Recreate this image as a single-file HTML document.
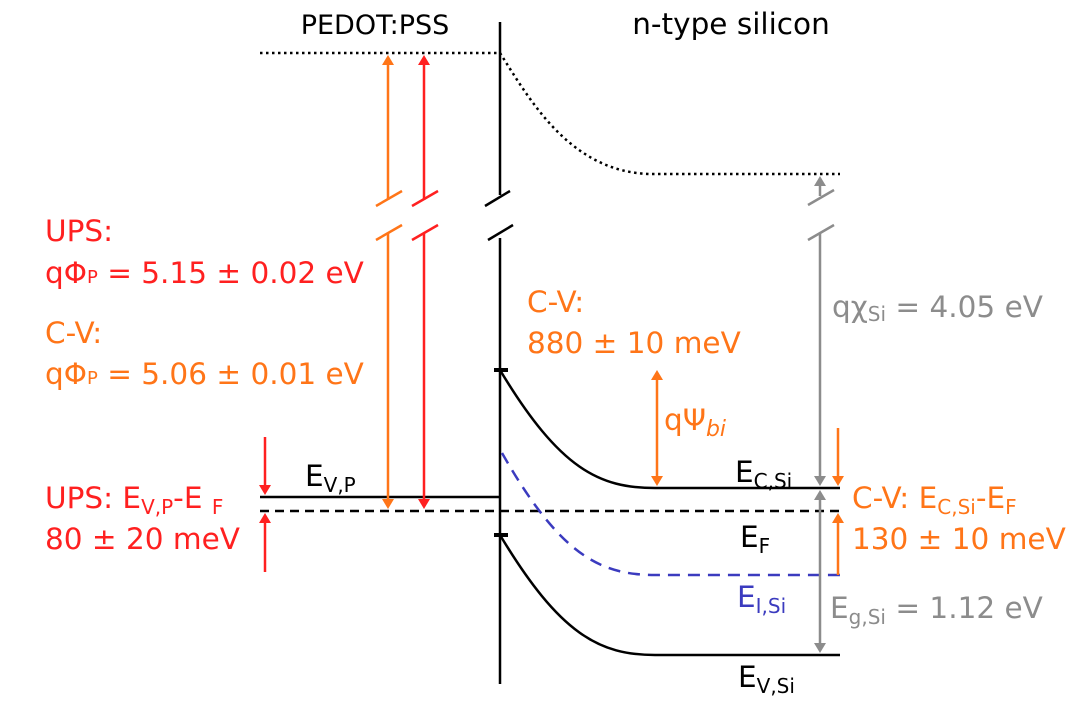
<!DOCTYPE html>
<html><head><meta charset="utf-8"><style>
html,body{margin:0;padding:0;background:#fff;}
svg{display:block;font-family:"DejaVu Sans","Liberation Sans",sans-serif;}
</style></head><body>
<svg width="1080" height="701" viewBox="0 0 1080 701">
<defs>
<marker id="hO" markerWidth="10" markerHeight="12" refX="5" refY="6" orient="auto-start-reverse" markerUnits="userSpaceOnUse"><path d="M0,0 L10,6 L0,12 z" fill="#ff7518"/></marker>
<marker id="hR" markerWidth="10" markerHeight="12" refX="5" refY="6" orient="auto-start-reverse" markerUnits="userSpaceOnUse"><path d="M0,0 L10,6 L0,12 z" fill="#ff2020"/></marker>
<marker id="hG" markerWidth="10" markerHeight="12" refX="5" refY="6" orient="auto-start-reverse" markerUnits="userSpaceOnUse"><path d="M0,0 L10,6 L0,12 z" fill="#8c8c8c"/></marker>
</defs>
<text x="375" y="34" font-size="27" text-anchor="middle">PEDOT:PSS</text>
<text x="731" y="34" font-size="29.5" text-anchor="middle">n-type silicon</text>
<line x1="500" y1="22" x2="500" y2="195" stroke="#000" stroke-width="2.5"/>
<line x1="500" y1="238" x2="500" y2="684" stroke="#000" stroke-width="2.5"/>
<line x1="485" y1="206" x2="510" y2="191" stroke="#000" stroke-width="2.5"/>
<line x1="488" y1="240" x2="513" y2="225" stroke="#000" stroke-width="2.5"/>
<line x1="494" y1="370" x2="508" y2="370" stroke="#000" stroke-width="4"/>
<line x1="494" y1="535" x2="508" y2="535" stroke="#000" stroke-width="4"/>
<path d="M260,53 L500,53 C530,100 570,172 650,174 L840,174" fill="none" stroke="#000" stroke-width="2.5" stroke-dasharray="2.5,3.5"/>
<line x1="260" y1="497" x2="500" y2="497" stroke="#000" stroke-width="2.5"/>
<line x1="260" y1="511" x2="840" y2="511" stroke="#000" stroke-width="2.5" stroke-dasharray="9,6"/>
<path d="M500,370 C560,470 600,488 655,488 L840,488" fill="none" stroke="#000" stroke-width="2.5"/>
<path d="M500,535 C560,635 600,655 655,655 L840,655" fill="none" stroke="#000" stroke-width="2.5"/>
<path d="M502,453 C560,555 600,575 655,575 L840,575" fill="none" stroke="#3b3bbf" stroke-width="2.5" stroke-dasharray="12,8"/>
<g stroke="#ff7518" stroke-width="2.5" fill="none">
<line x1="388" y1="60" x2="388" y2="200" marker-start="url(#hO)"/>
<line x1="376" y1="206" x2="402" y2="191"/>
<line x1="376" y1="240" x2="402" y2="225"/>
<line x1="388" y1="233" x2="388" y2="504" marker-end="url(#hO)"/>
</g>
<g stroke="#ff2020" stroke-width="2.5" fill="none">
<line x1="424" y1="60" x2="424" y2="200" marker-start="url(#hR)"/>
<line x1="412" y1="206" x2="438" y2="191"/>
<line x1="412" y1="240" x2="438" y2="225"/>
<line x1="424" y1="233" x2="424" y2="504" marker-end="url(#hR)"/>
</g>
<g stroke="#8c8c8c" stroke-width="2.5" fill="none">
<line x1="820" y1="181" x2="820" y2="196" marker-start="url(#hG)"/>
<line x1="808" y1="205" x2="834" y2="190"/>
<line x1="808" y1="240" x2="834" y2="225"/>
<line x1="820" y1="233" x2="820" y2="481" marker-end="url(#hG)"/>
</g>
<line x1="820" y1="495" x2="820" y2="648" stroke="#8c8c8c" stroke-width="2.5" marker-start="url(#hG)" marker-end="url(#hG)"/>
<line x1="657" y1="375" x2="657" y2="481" stroke="#ff7518" stroke-width="2.5" marker-start="url(#hO)" marker-end="url(#hO)"/>
<line x1="838" y1="428" x2="838" y2="481" stroke="#ff7518" stroke-width="2.5" marker-end="url(#hO)"/>
<line x1="838" y1="575" x2="838" y2="518" stroke="#ff7518" stroke-width="2.5" marker-end="url(#hO)"/>
<line x1="265" y1="437" x2="265" y2="490" stroke="#ff2020" stroke-width="2.5" marker-end="url(#hR)"/>
<line x1="265" y1="572" x2="265" y2="518" stroke="#ff2020" stroke-width="2.5" marker-end="url(#hR)"/>
<g font-size="29.5" fill="#ff2020">
<text x="45" y="241">UPS:</text>
<text x="45" y="283">qΦ<tspan font-size="18">P</tspan> = 5.15 ± 0.02 eV</text>
<text x="45" y="508">UPS: E<tspan font-size="20" dy="6">V,P</tspan><tspan dy="-6">-E </tspan><tspan font-size="20" dy="6">F</tspan></text>
<text x="45" y="549">80 ± 20 meV</text>
</g>
<g font-size="29.5" fill="#ff7518">
<text x="45" y="343">C-V:</text>
<text x="45" y="384">qΦ<tspan font-size="18">P</tspan> = 5.06 ± 0.01 eV</text>
<text x="527" y="312">C-V:</text>
<text x="527" y="353">880 ± 10 meV</text>
<text x="664" y="430">qΨ<tspan font-size="22" font-style="italic" dy="6">bi</tspan></text>
<text x="852" y="508">C-V: E<tspan font-size="20" dy="6">C,Si</tspan><tspan dy="-6">-E</tspan><tspan font-size="20" dy="6">F</tspan></text>
<text x="852" y="549">130 ± 10 meV</text>
</g>
<g font-size="29.5" fill="#8c8c8c">
<text x="832" y="317">qχ<tspan font-size="20" dy="4">Si</tspan><tspan dy="-4"> = 4.05 eV</tspan></text>
<text x="830" y="618">E<tspan font-size="20" dy="6">g,Si</tspan><tspan dy="-6"> = 1.12 eV</tspan></text>
</g>
<g font-size="29.5" fill="#000">
<text x="305" y="486">E<tspan font-size="20" dy="6">V,P</tspan></text>
<text x="735" y="482">E<tspan font-size="20" dy="6">C,Si</tspan></text>
<text x="740" y="547">E<tspan font-size="20" dy="6">F</tspan></text>
<text x="738" y="687">E<tspan font-size="20" dy="6">V,Si</tspan></text>
</g>
<text x="737" y="607" font-size="29.5" fill="#3b3bbf">E<tspan font-size="20" dy="6">I,Si</tspan></text>
</svg>
</body></html>
